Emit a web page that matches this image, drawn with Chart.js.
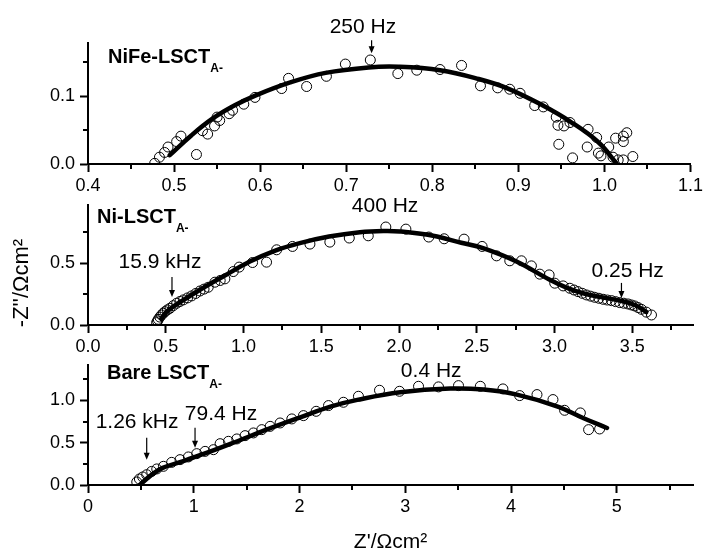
<!DOCTYPE html>
<html>
<head>
<meta charset="utf-8">
<script src="https://cdn.jsdelivr.net/npm/chart.js@4.4.1/dist/chart.umd.min.js"></script>
<style>
  body { margin: 0; background: #fff; width: 706px; height: 556px; position: relative; overflow: hidden; }
  canvas { position: absolute; left: 0; }
</style>
</head>
<body>
<canvas id="c1" width="706" height="200" style="top:0px"></canvas>
<canvas id="c2" width="706" height="180" style="top:180px"></canvas>
<canvas id="c3" width="706" height="211" style="top:345px"></canvas>
<script>
// ---- NiFe-LSCT panel ----
const nifeX = [0.4775, 0.483, 0.489, 0.493, 0.503, 0.508, 0.526, 0.533, 0.539, 0.547, 0.550, 0.553, 0.564, 0.568, 0.581, 0.594,
  0.625, 0.633, 0.654, 0.677, 0.699, 0.728, 0.760, 0.782, 0.809, 0.834, 0.856, 0.876, 0.890, 0.902, 0.919, 0.929, 0.944,
  0.946, 0.953, 0.960, 0.947, 0.963, 0.981, 0.980, 0.991, 0.993, 0.996, 1.005, 1.010, 1.013, 1.016, 1.022, 1.022, 1.026,
  1.022, 1.033];
const nifeY = [0.001, 0.010, 0.017, 0.025, 0.033, 0.041, 0.014, 0.049, 0.044, 0.056, 0.069, 0.064, 0.074, 0.079, 0.088, 0.098,
  0.111, 0.126, 0.114, 0.129, 0.147, 0.153, 0.133, 0.138, 0.139, 0.145, 0.115, 0.112, 0.110, 0.104, 0.086, 0.084, 0.069,
  0.057, 0.056, 0.061, 0.029, 0.009, 0.051, 0.025, 0.039, 0.016, 0.012, 0.025, 0.010, 0.038, 0.006, 0.033, 0.041, 0.046,
  0.006, 0.011];
const nifeFitX = [0.495, 0.52, 0.545, 0.57, 0.595, 0.635, 0.676, 0.726, 0.761, 0.809, 0.854, 0.888, 0.927, 0.962, 0.993, 1.014];
const nifeFitY = [0.013, 0.042, 0.067, 0.086, 0.101, 0.120, 0.134, 0.142, 0.143, 0.138, 0.125, 0.111, 0.087, 0.061, 0.032, 0.001];
const nifeXTicks = [0.4, 0.5, 0.6, 0.7, 0.8, 0.9, 1.0, 1.1];
const nifeXMinor = [0.45, 0.55, 0.65, 0.75, 0.85, 0.95, 1.05];
const nifeYTicks = [0.0, 0.1];
const nifeYMinor = [0.05, 0.15];

// ---- Ni-LSCT panel ----
const niX = [0.441, 0.447, 0.452, 0.462, 0.473, 0.484, 0.495, 0.510, 0.527, 0.548, 0.570, 0.591, 0.613, 0.640, 0.666, 0.693,
  0.720, 0.746, 0.773, 0.816, 0.850, 0.880, 0.934, 0.972, 1.058, 1.148, 1.213, 1.315, 1.427, 1.555, 1.680, 1.802, 1.915,
  2.044, 2.191, 2.290, 2.418, 2.534, 2.627, 2.712, 2.787, 2.851, 2.905, 2.965, 3.001, 3.055, 3.098, 3.125, 3.151, 3.178,
  3.205, 3.232, 3.258, 3.285, 3.312, 3.339, 3.366, 3.392, 3.419, 3.445, 3.472, 3.494, 3.515, 3.537, 3.558, 3.590, 3.623];
const niY = [0.019, 0.033, 0.046, 0.064, 0.081, 0.095, 0.108, 0.122, 0.135, 0.156, 0.176, 0.190, 0.203, 0.219, 0.235, 0.255,
  0.275, 0.290, 0.305, 0.346, 0.360, 0.373, 0.432, 0.468, 0.505, 0.508, 0.608, 0.635, 0.654, 0.670, 0.703, 0.721, 0.792,
  0.775, 0.711, 0.697, 0.694, 0.635, 0.559, 0.519, 0.519, 0.478, 0.411, 0.405, 0.338, 0.316, 0.297, 0.283, 0.270, 0.256,
  0.243, 0.233, 0.224, 0.216, 0.208, 0.202, 0.197, 0.189, 0.181, 0.176, 0.170, 0.162, 0.154, 0.141, 0.127, 0.104, 0.081];
const niFitX = [0.47, 0.50, 0.55, 0.72, 0.88, 1.041, 1.20, 1.362, 1.55, 1.748, 1.90, 2.005, 2.219, 2.40, 2.540, 2.755, 2.969,
  3.08, 3.183, 3.30, 3.419, 3.52, 3.590];
const niFitY = [0.05, 0.10, 0.15, 0.284, 0.40, 0.513, 0.600, 0.662, 0.715, 0.750, 0.760, 0.756, 0.721, 0.665, 0.621, 0.513,
  0.365, 0.300, 0.257, 0.225, 0.197, 0.160, 0.105];
const niXTicks = [0.0, 0.5, 1.0, 1.5, 2.0, 2.5, 3.0, 3.5];
const niXMinor = [0.25, 0.75, 1.25, 1.75, 2.25, 2.75, 3.25, 3.75];
const niYTicks = [0.0, 0.5];
const niYMinor = [0.25, 0.75];

// ---- Bare LSCT panel ----
const bareX = [0.461, 0.486, 0.517, 0.555, 0.602, 0.650, 0.713, 0.791, 0.870, 0.949, 1.028, 1.107, 1.186, 1.249, 1.328, 1.407,
  1.485, 1.564, 1.643, 1.722, 1.816, 1.927, 2.037, 2.157, 2.274, 2.415, 2.557, 2.756, 2.945, 3.125, 3.314, 3.503, 3.709,
  3.923, 4.081, 4.245, 4.396, 4.506, 4.655, 4.733, 4.837];
const bareY = [0.036, 0.071, 0.095, 0.122, 0.161, 0.190, 0.221, 0.268, 0.300, 0.332, 0.371, 0.398, 0.418, 0.489, 0.517, 0.545,
  0.584, 0.616, 0.655, 0.694, 0.734, 0.782, 0.821, 0.872, 0.940, 0.979, 1.050, 1.121, 1.109, 1.168, 1.161, 1.176, 1.168,
  1.137, 1.058, 1.070, 1.011, 0.884, 0.853, 0.655, 0.663];
const bareFitX = [0.492, 0.60, 0.70, 0.870, 1.10, 1.375, 1.70, 2.006, 2.30, 2.557, 2.952, 3.425, 3.74, 4.055, 4.434, 4.686, 4.907];
const bareFitY = [0.004, 0.12, 0.20, 0.270, 0.370, 0.500, 0.660, 0.800, 0.930, 1.010, 1.097, 1.141, 1.129, 1.070, 0.931, 0.790, 0.675];
const bareXTicks = [0, 1, 2, 3, 4, 5];
const bareXMinor = [0.5, 1.5, 2.5, 3.5, 4.5, 5.5];
const bareYTicks = [0.0, 0.5, 1.0];
const bareYMinor = [0.25, 0.75, 1.25];

const FONT = 'Liberation Sans, Arial, Helvetica, sans-serif';
const pts = (xs, ys) => xs.map((x, i) => ({ x: x, y: ys[i] }));

// minor ticks, arrows, frequency labels and panel names
const decor = {
  id: 'decor',
  afterDraw(chart, args, o) {
    const ctx = chart.ctx, xs = chart.scales.x, ys = chart.scales.y, area = chart.chartArea;
    ctx.save();
    ctx.strokeStyle = '#000';
    ctx.fillStyle = '#000';
    ctx.lineWidth = 2;
    ctx.beginPath();
    o.xMinor.forEach(v => {
      const p = Math.round(xs.getPixelForValue(v));
      ctx.moveTo(p, area.bottom); ctx.lineTo(p, area.bottom + 5);
    });
    o.yMinor.forEach(v => {
      const p = Math.round(ys.getPixelForValue(v));
      ctx.moveTo(area.left, p); ctx.lineTo(area.left - 5, p);
    });
    ctx.stroke();

    (o.arrows || []).forEach(a => {
      const px = xs.getPixelForValue(a.x), py = ys.getPixelForValue(a.y);
      ctx.lineWidth = 1.2;
      ctx.beginPath();
      ctx.moveTo(px, py - a.len); ctx.lineTo(px, py - 5);
      ctx.stroke();
      ctx.beginPath();
      ctx.moveTo(px, py); ctx.lineTo(px - 3, py - 7); ctx.lineTo(px + 3, py - 7);
      ctx.closePath();
      ctx.fill();
    });

    ctx.font = '21px ' + FONT;
    ctx.textAlign = 'center';
    ctx.textBaseline = 'alphabetic';
    (o.notes || []).forEach(n => {
      ctx.fillText(n.text, xs.getPixelForValue(n.x), ys.getPixelForValue(n.y));
    });

    if (o.name) {
      ctx.textAlign = 'left';
      ctx.font = 'bold 20px ' + FONT;
      ctx.fillText(o.name.text, o.name.left, o.name.base);
      const w = ctx.measureText(o.name.text).width;
      ctx.font = 'bold 12px ' + FONT;
      ctx.fillText(o.name.sub, o.name.left + w, o.name.base + 9);
    }
    if (o.yTitle) {
      ctx.save();
      ctx.translate(o.yTitle.cx, o.yTitle.cy);
      ctx.rotate(-Math.PI / 2);
      ctx.textAlign = 'center';
      ctx.textBaseline = 'middle';
      ctx.font = '22px ' + FONT;
      ctx.fillText(o.yTitle.text, 0, 0);
      ctx.restore();
    }
    if (o.xTitle) {
      ctx.textAlign = 'center';
      ctx.font = '21px ' + FONT;
      ctx.fillText(o.xTitle.text, (area.left + area.right) / 2, o.xTitle.base);
    }
    ctx.restore();
  }
};

function makePanel(id, p) {
  const axisCommon = {
    type: 'linear',
    border: { display: true, color: '#000', width: 2 },
    grid: { display: true, drawOnChartArea: false, drawTicks: true, tickLength: 8, tickColor: '#000', tickWidth: 2 }
  };
  return new Chart(document.getElementById(id), {
    data: {
      datasets: [
        {
          type: 'line', data: pts(p.fitX, p.fitY), borderColor: '#000', borderWidth: 4.5,
          pointRadius: 0, tension: 0.4, fill: false, borderCapStyle: 'round'
        },
        {
          type: 'scatter', data: pts(p.x, p.y), pointStyle: 'circle', pointRadius: 5,
          borderColor: '#000', borderWidth: 1, backgroundColor: 'rgba(255,255,255,0)'
        }
      ]
    },
    options: {
      responsive: false,
      animation: false,
      events: [],
      layout: { padding: p.pad },
      plugins: { legend: { display: false }, tooltip: { enabled: false }, decor: p.decor },
      scales: {
        x: Object.assign({}, axisCommon, {
          min: p.xMin, max: p.xMax,
          afterBuildTicks: s => { s.ticks = p.xTicks.map(v => ({ value: v })); },
          afterFit: s => { s.height = 30; },
          ticks: {
            color: '#000', font: { family: FONT, size: 18 }, padding: 3, autoSkip: false, maxRotation: 0,
            callback: v => v.toFixed(p.xDec)
          }
        }),
        y: Object.assign({}, axisCommon, {
          min: p.yMin, max: p.yMax,
          afterBuildTicks: s => { s.ticks = p.yTicks.map(v => ({ value: v })); },
          afterFit: s => { s.width = 88; },
          ticks: {
            color: '#000', font: { family: FONT, size: 18 }, padding: 5,
            callback: v => v.toFixed(1)
          }
        })
      }
    },
    plugins: [decor]
  });
}

makePanel('c1', {
  x: nifeX, y: nifeY, fitX: nifeFitX, fitY: nifeFitY,
  xMin: 0.4, xMax: 1.1, yMin: 0, yMax: 0.178, xDec: 1,
  xTicks: nifeXTicks, yTicks: nifeYTicks,
  pad: { left: 0, right: 13, top: 43, bottom: 6 },
  decor: {
    xMinor: nifeXMinor, yMinor: nifeYMinor,
    arrows: [{ x: 0.7295, y: 0.163, len: 13 }],
    notes: [{ x: 0.7194, y: 0.1926, text: '250 Hz' }],
    name: { text: 'NiFe-LSCT', sub: 'A-', left: 108, base: 63 }
  }
});

makePanel('c2', {
  x: niX, y: niY, fitX: niFitX, fitY: niFitY,
  xMin: 0, xMax: 3.89, yMin: 0, yMax: 0.97, xDec: 1,
  xTicks: niXTicks, yTicks: niYTicks,
  pad: { left: 0, right: 13, top: 25, bottom: 5 },
  decor: {
    xMinor: niXMinor, yMinor: niYMinor,
    arrows: [{ x: 0.54, y: 0.227, len: 20 }, { x: 3.43, y: 0.219, len: 15 }],
    notes: [
      { x: 0.463, y: 0.462, text: '15.9 kHz' },
      { x: 1.91, y: 0.916, text: '400 Hz' },
      { x: 3.47, y: 0.389, text: '0.25 Hz' }
    ],
    name: { text: 'Ni-LSCT', sub: 'A-', left: 97, base: 43 },
    yTitle: { text: "-Z''/Ωcm²", cx: 22, cy: 103 }
  }
});

makePanel('c3', {
  x: bareX, y: bareY, fitX: bareFitX, fitY: bareFitY,
  xMin: 0, xMax: 5.72, yMin: 0, yMax: 1.42, xDec: 0,
  xTicks: bareXTicks, yTicks: bareYTicks,
  pad: { left: 0, right: 13, top: 20, bottom: 41 },
  decor: {
    xMinor: bareXMinor, yMinor: bareYMinor,
    arrows: [{ x: 0.555, y: 0.30, len: 22 }, { x: 1.012, y: 0.442, len: 20 }],
    notes: [
      { x: 0.464, y: 0.679, text: '1.26 kHz' },
      { x: 1.258, y: 0.774, text: '79.4 Hz' },
      { x: 3.245, y: 1.283, text: '0.4 Hz' }
    ],
    name: { text: 'Bare LSCT', sub: 'A-', left: 107, base: 34 },
    xTitle: { text: "Z'/Ωcm²", base: 203 }
  }
});
</script>
</body>
</html>
